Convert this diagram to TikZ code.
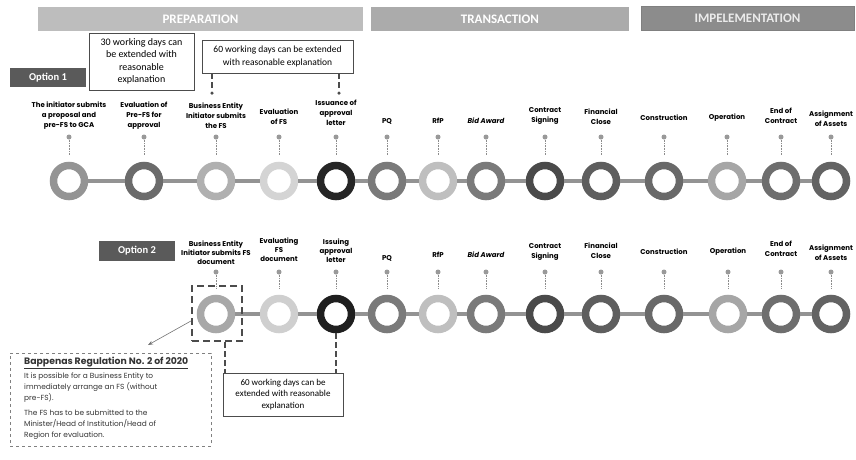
\documentclass[tikz,border=0pt]{standalone}
\usepackage{fontspec}
\usepackage{tikz}
\usetikzlibrary{arrows.meta}
\setmainfont{Carlito}
\newfontfamily\gothic{Poppins}

\definecolor{barA}{HTML}{BDBDBD}
\definecolor{barB}{HTML}{ABABAB}
\definecolor{barC}{HTML}{8C8C8C}
\definecolor{optgray}{HTML}{5A5A5A}
\definecolor{railgray}{HTML}{939393}

\begin{document}
\begin{tikzpicture}[x=1pt,y=-1pt,
  phase/.style={minimum height=24pt, inner sep=0pt, font=\bfseries\fontsize{13}{14}\selectfont},
  option/.style={fill=optgray, text=white, minimum width=76pt, minimum height=19pt, inner sep=0pt, font=\bfseries\fontsize{10.5}{12}\selectfont},
  note/.style={draw=black!70, fill=white, align=center, inner sep=0pt, font=\fontsize{10}{12.5}\selectfont},
  ring/.style={circle, draw=#1, fill=white, line width=7.5pt, minimum size=31pt, inner sep=0pt},
  rail/.style={draw=railgray, line width=4.5pt},
  knob/.style={circle, fill=black!40, minimum size=5pt, inner sep=0pt},
  stem/.style={draw=black!45, densely dotted, line width=0.6pt, shorten >=7pt},
  label/.style={align=center, inner sep=0pt, font=\gothic\bfseries\fontsize{7}{10}\selectfont},
  dashlink/.style={draw=black!70, line width=2.2pt, dash pattern=on 6pt off 3pt},
]
\useasboundingbox (0,0) rectangle (856,459);

% Phase bars
\node[phase, fill=barA, text=white, minimum width=325pt] (prep) at (200.5,19) {PREPARATION};
\node[phase, fill=barB, text=white, minimum width=258pt] (trans) at (500,19) {TRANSACTION};
\node[phase, fill=barC, draw=black!50, text=white!92!black, minimum width=213pt] (impl) at (747.5,18.5) {IMPELEMENTATION};

% Option tags
\node[option] (opt1) at (48,77.5) {Option 1};
\node[option, minimum height=20pt] (opt2) at (137,251) {Option 2};

% Notes
\node[note, minimum width=105pt, minimum height=57pt] (days30) at (141.5,61.5) {30 working days can\\be extended with\\reasonable\\explanation};
\node[note, minimum width=151pt, minimum height=33pt, font=\fontsize{9.5}{12.5}\selectfont] (days60a) at (277.5,56.5) {60 working days can be extended\\with reasonable explanation};
\node[note, minimum width=120pt, minimum height=43pt, font=\fontsize{9}{11.5}\selectfont] (days60b) at (283,394.5) {60 working days can be\\extended with reasonable\\explanation};

% Row 1 rings
\node[ring=black!42] (a1) at (69,181) {};
\node[ring=black!58] (a2) at (144,181) {};
\node[ring=black!31] (a3) at (216,181) {};
\node[ring=black!17] (a4) at (279,181) {};
\node[ring=black!85] (a5) at (336,181) {};
\node[ring=black!52] (a6) at (387,181) {};
\node[ring=black!25] (a7) at (438,181) {};
\node[ring=black!52] (a8) at (486,181) {};
\node[ring=black!71] (a9) at (545,181) {};
\node[ring=black!63] (a10) at (601,181) {};
\node[ring=black!59] (a11) at (664,181) {};
\node[ring=black!35] (a12) at (727,181) {};
\node[ring=black!57] (a13) at (781,181) {};
\node[ring=black!61] (a14) at (831,181) {};

% Row 1 rail
\draw[rail] (a1) -- (a2);
\draw[rail] (a2) -- (a3);
\draw[rail] (a3) -- (a4);
\draw[rail] (a4) -- (a5);
\draw[rail] (a5) -- (a6);
\draw[rail] (a6) -- (a7);
\draw[rail] (a7) -- (a8);
\draw[rail] (a8) -- (a9);
\draw[rail] (a9) -- (a10);
\draw[rail] (a10) -- (a11);
\draw[rail] (a11) -- (a12);
\draw[rail] (a12) -- (a13);
\draw[rail] (a13) -- (a14);

% Row 1 labels
\node[label] (la1) at (69,116) {The initiator submits\\a proposal and\\pre-FS to GCA};
\node[label] (la2) at (144,116) {Evaluation of\\Pre-FS for\\approval};
\node[label] (la3) at (216,116) {Business Entity\\Initiator submits\\the FS};
\node[label] (la4) at (279,117) {Evaluation\\of FS};
\node[label] (la5) at (336,113) {Issuance of\\approval\\letter};
\node[label] (la6) at (387,121) {PQ};
\node[label] (la7) at (438,121) {RfP};
\node[label] (la8) at (486,121) {\itshape Bid Award};
\node[label] (la9) at (545,116) {Contract\\Signing};
\node[label] (la10) at (601,117) {Financial\\Close};
\node[label] (la11) at (664,118) {Construction};
\node[label] (la12) at (727,118) {Operation};
\node[label] (la13) at (781,116) {End of\\Contract};
\node[label] (la14) at (831,119) {Assignment\\of Assets};

% Row 1 pins
\node[knob] (ka1) at (69,137) {};
\node[knob] (ka2) at (144,137) {};
\node[knob] (ka3) at (216,137) {};
\node[knob] (ka4) at (279,137) {};
\node[knob] (ka5) at (336,137) {};
\node[knob] (ka6) at (387,137) {};
\node[knob] (ka7) at (438,137) {};
\node[knob] (ka8) at (486,137) {};
\node[knob] (ka9) at (545,137) {};
\node[knob] (ka10) at (601,137) {};
\node[knob] (ka11) at (664,137) {};
\node[knob] (ka12) at (727,137) {};
\node[knob] (ka13) at (781,137) {};
\node[knob] (ka14) at (831,137) {};
\draw[stem] (ka1) -- (a1.north);
\draw[stem] (ka2) -- (a2.north);
\draw[stem] (ka3) -- (a3.north);
\draw[stem] (ka4) -- (a4.north);
\draw[stem] (ka5) -- (a5.north);
\draw[stem] (ka6) -- (a6.north);
\draw[stem] (ka7) -- (a7.north);
\draw[stem] (ka8) -- (a8.north);
\draw[stem] (ka9) -- (a9.north);
\draw[stem] (ka10) -- (a10.north);
\draw[stem] (ka11) -- (a11.north);
\draw[stem] (ka12) -- (a12.north);
\draw[stem] (ka13) -- (a13.north);
\draw[stem] (ka14) -- (a14.north);

% Links from the top note
\node[knob, fill=black!70, minimum size=3.5pt] (ea) at (212,93) {};
\node[knob, fill=black!70, minimum size=3.5pt] (eb) at (339,93) {};
\draw[dashlink] (ea |- days60a.south) -- (ea);
\draw[dashlink] (eb |- days60a.south) -- (eb);

% Row 2 rings
\node[ring=black!34] (b3) at (216,314) {};
\node[ring=black!19] (b4) at (279,314) {};
\node[ring=black!88] (b5) at (336,314) {};
\node[ring=black!52] (b6) at (387,314) {};
\node[ring=black!25] (b7) at (438,314) {};
\node[ring=black!52] (b8) at (486,314) {};
\node[ring=black!71] (b9) at (545,314) {};
\node[ring=black!63] (b10) at (601,314) {};
\node[ring=black!59] (b11) at (664,314) {};
\node[ring=black!35] (b12) at (728,314) {};
\node[ring=black!57] (b13) at (781,314) {};
\node[ring=black!61] (b14) at (831,314) {};

% Row 2 rail
\draw[rail] (b3) -- (b4);
\draw[rail] (b4) -- (b5);
\draw[rail] (b5) -- (b6);
\draw[rail] (b6) -- (b7);
\draw[rail] (b7) -- (b8);
\draw[rail] (b8) -- (b9);
\draw[rail] (b9) -- (b10);
\draw[rail] (b10) -- (b11);
\draw[rail] (b11) -- (b12);
\draw[rail] (b12) -- (b13);
\draw[rail] (b13) -- (b14);

% Row 2 labels
\node[label, font=\gothic\bfseries\fontsize{7}{9}\selectfont] (lb3) at (216,253) {Business Entity\\Initiator submits FS\\document};
\node[label, font=\gothic\bfseries\fontsize{7}{9}\selectfont] (lb4) at (279,250) {Evaluating\\FS\\document};
\node[label, font=\gothic\bfseries\fontsize{7}{9}\selectfont] (lb5) at (336,251) {Issuing\\approval\\letter};
\node[label] (lb6) at (387,258) {PQ};
\node[label] (lb7) at (438,255) {RfP};
\node[label] (lb8) at (486,255) {\itshape Bid Award};
\node[label] (lb9) at (545,252) {Contract\\Signing};
\node[label] (lb10) at (601,251) {Financial\\Close};
\node[label] (lb11) at (664,252) {Construction};
\node[label] (lb12) at (728,252) {Operation};
\node[label] (lb13) at (781,249) {End of\\Contract};
\node[label] (lb14) at (831,253) {Assignment\\of Assets};

% Row 2 pins
\node[knob] (kb3) at (216,272) {};
\node[knob] (kb4) at (279,272) {};
\node[knob] (kb5) at (336,272) {};
\node[knob] (kb6) at (387,272) {};
\node[knob] (kb7) at (438,272) {};
\node[knob] (kb8) at (486,272) {};
\node[knob] (kb9) at (545,272) {};
\node[knob] (kb10) at (601,272) {};
\node[knob] (kb11) at (664,272) {};
\node[knob] (kb12) at (728,272) {};
\node[knob] (kb13) at (781,272) {};
\node[knob] (kb14) at (831,272) {};
\draw[stem] (kb3) -- (b3.north);
\draw[stem] (kb4) -- (b4.north);
\draw[stem] (kb5) -- (b5.north);
\draw[stem] (kb6) -- (b6.north);
\draw[stem] (kb7) -- (b7.north);
\draw[stem] (kb8) -- (b8.north);
\draw[stem] (kb9) -- (b9.north);
\draw[stem] (kb10) -- (b10.north);
\draw[stem] (kb11) -- (b11.north);
\draw[stem] (kb12) -- (b12.north);
\draw[stem] (kb13) -- (b13.north);
\draw[stem] (kb14) -- (b14.north);

% Highlight of the first step of option 2
\node[draw=black!70, line width=2.2pt, dash pattern=on 7pt off 4pt, minimum width=50pt, minimum height=55pt, inner sep=0pt] (sel) at (217,313.5) {};

% Regulation note
\node[draw=black!50, dashed, line width=0.8pt, minimum width=201pt, minimum height=93pt, inner sep=0pt] (reg) at (110.5,399.5) {};
\node[anchor=north west, align=left, inner sep=0pt, font=\gothic\fontsize{7.4}{11}\selectfont, text=black!80] (regtext) at (24,357)
  {{\bfseries\fontsize{9.3}{11}\selectfont\underline{Bappenas Regulation No. 2 of 2020}}\\[3pt]
   It is possible for a Business Entity to\\immediately arrange an FS (without\\pre-FS).\\[4pt]
   The FS has to be submitted to the\\Minister/Head of Institution/Head of\\Region for evaluation.};

% Links to the bottom note
\coordinate (regtip) at (148,345);
\draw[draw=black!55, line width=0.6pt, -{Stealth[length=5pt]}] ([yshift=-7.5pt]sel.west) -- (regtip);
\draw[dashlink] ([xshift=8pt]sel.south) -- ([xshift=8pt]sel.south |- days60b.north);
\draw[dashlink] (b5.south) -- (b5.south |- days60b.north);
\end{tikzpicture}
\end{document}
